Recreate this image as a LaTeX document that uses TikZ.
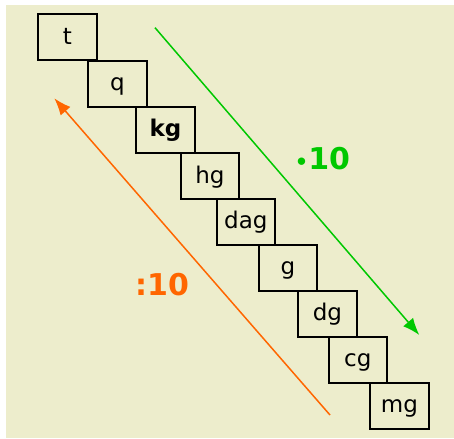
\documentclass[tikz,border=0pt]{standalone}
\usepackage{xcolor}
\usepackage{fontspec}
\setmainfont{DejaVu Sans}
\usepackage{tikz}
\usetikzlibrary{arrows.meta, positioning}
\definecolor{unitbeige}{RGB}{237,237,204}
\definecolor{unitgreen}{RGB}{0,200,0}
\definecolor{unitorange}{RGB}{255,102,0}

\begin{document}
\begin{tikzpicture}[x=1pt, y=-1pt,
  unit/.style={rectangle, draw=black, line width=2pt, minimum width=58.3pt, minimum height=46pt, inner sep=0pt, anchor=north west, text height=18pt, text depth=4pt, font=\fontsize{23}{27}\selectfont},
  factor/.style={font=\fontsize{30}{36}\selectfont\bfseries},
  arr/.style={-{Latex[length=17pt, width=13pt]}, line width=1.5pt}
]
\useasboundingbox (0,0) rectangle (454,438);
\fill[unitbeige] (6,5) rectangle (454,438);
\node[unit] (t) at (37.3,13.3) {t};
\node[unit] (q) at (87.3,60) {q};
\node[unit] (kg) at (135.3,106) {\bfseries kg};
\node[unit] (hg) at (179.7,152) {hg};
\node[unit] (dag) at (215.7,197.7) {dag};
\node[unit] (g) at (257.7,243.7) {g};
\node[unit] (dg) at (297.3,289.7) {dg};
\node[unit] (cg) at (327.7,335.7) {cg};
\node[unit] (mg) at (369.3,381.7) {mg};
\coordinate (mulstart) at (155,27.7);
\coordinate (mulend) at (419.3,335);
\coordinate (divstart) at (330,415);
\coordinate (divend) at (54.3,98.3);
\draw[arr, unitgreen] (mulstart) -- (mulend);
\draw[arr, unitorange] (divstart) -- (divend);
% Labels
\node[factor, text=unitgreen] (mul) at (322.5,158.5) {{\fontsize{21}{24}\selectfont•}10};
\node[factor, text=unitorange] (div) at (162,284.5) {:10};
\end{tikzpicture}
\end{document}
